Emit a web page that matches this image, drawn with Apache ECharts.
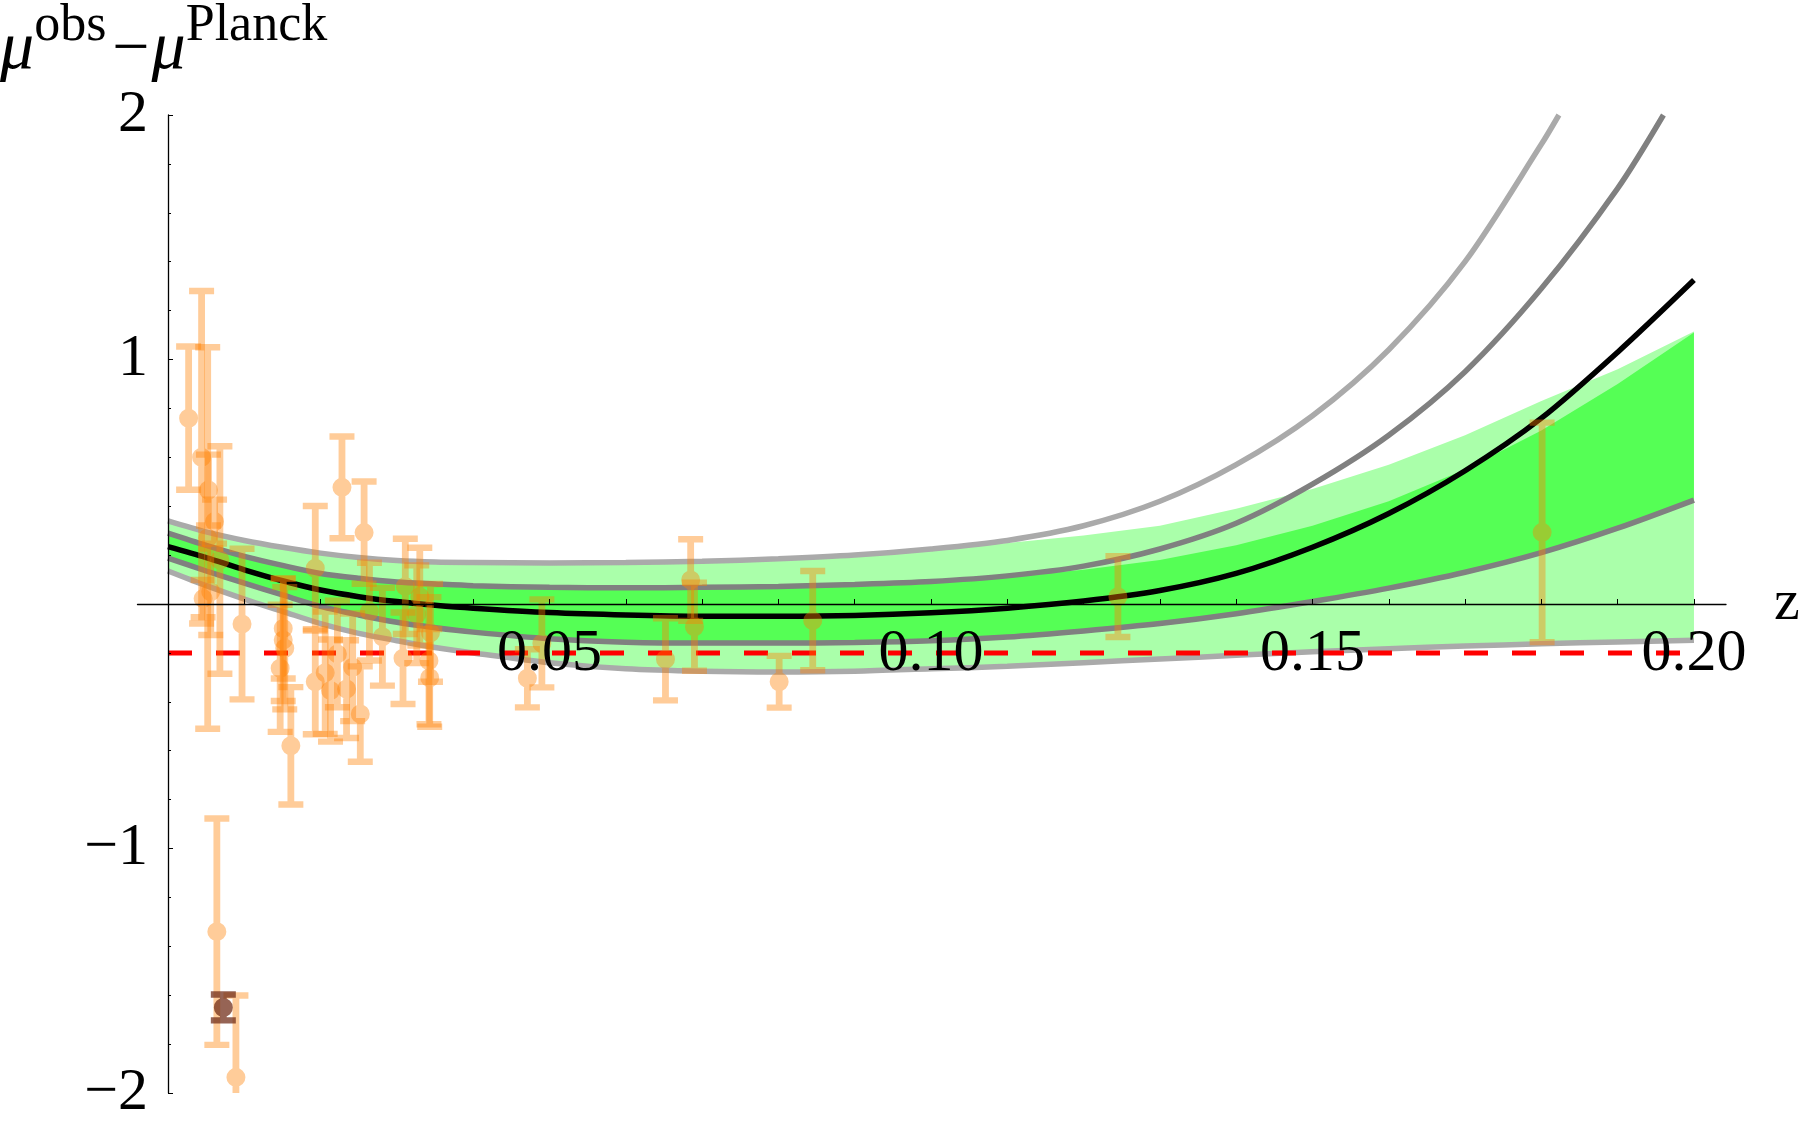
<!DOCTYPE html>
<html>
<head>
<meta charset="utf-8">
<script src="https://cdn.jsdelivr.net/npm/echarts@6/dist/echarts.min.js"></script>
<style>
  html, body { margin: 0; padding: 0; background: #fff; overflow: hidden; }
  #chart { width: 1800px; height: 1131px; }
</style>
</head>
<body>
<div id="chart"></div>
<script>
// redshift samples shared by the model curves and bands
const zGrid = [0, 0.005, 0.01, 0.015, 0.02, 0.025, 0.03, 0.035, 0.04, 0.05, 0.06, 0.07, 0.08,
  0.09, 0.10, 0.11, 0.12, 0.13, 0.14, 0.15, 0.16, 0.17, 0.18, 0.19, 0.20];

// best fit (black)
const fitMid = [0.235, 0.19, 0.14, 0.095, 0.057, 0.03, 0.01, -0.005, -0.017, -0.035, -0.045, -0.05, -0.05,
  -0.047, -0.036, -0.017, 0.012, 0.055, 0.125, 0.232, 0.37, 0.545, 0.76, 1.03, 1.325];

// upper curves leave the frame, so they have their own z samples
const zLightHi = [0, 0.005, 0.01, 0.015, 0.02, 0.025, 0.03, 0.035, 0.04, 0.05, 0.06, 0.07, 0.08,
  0.09, 0.10, 0.11, 0.12, 0.13, 0.14, 0.15, 0.16, 0.17, 0.18, 0.1823];
const lightHi = [0.34, 0.295, 0.26, 0.232, 0.208, 0.19, 0.178, 0.172, 0.17, 0.168, 0.17, 0.175, 0.185,
  0.2, 0.225, 0.26, 0.32, 0.42, 0.57, 0.77, 1.04, 1.40, 1.88, 2.0];
const zDarkHi = [0, 0.005, 0.01, 0.015, 0.02, 0.025, 0.03, 0.035, 0.04, 0.05, 0.06, 0.07, 0.08,
  0.09, 0.10, 0.11, 0.12, 0.13, 0.14, 0.15, 0.16, 0.17, 0.18, 0.19, 0.196];
const darkHi = [0.29, 0.24, 0.195, 0.158, 0.125, 0.105, 0.09, 0.082, 0.075, 0.068, 0.066, 0.068, 0.072,
  0.08, 0.092, 0.115, 0.155, 0.225, 0.33, 0.49, 0.69, 0.95, 1.29, 1.70, 2.0];

const darkLo = [0.188, 0.135, 0.085, 0.037, -0.01, -0.045, -0.075, -0.097, -0.115, -0.142, -0.156, -0.16, -0.16,
  -0.157, -0.15, -0.135, -0.11, -0.08, -0.04, 0.01, 0.065, 0.13, 0.21, 0.31, 0.425];
const lightLo = [0.135, 0.075, 0.02, -0.03, -0.08, -0.12, -0.15, -0.178, -0.2, -0.24, -0.265, -0.275, -0.278,
  -0.275, -0.265, -0.255, -0.24, -0.225, -0.21, -0.195, -0.183, -0.172, -0.163, -0.155, -0.148];

// top edges of the green bands
const lightBandTop = [0.34, 0.295, 0.26, 0.232, 0.208, 0.19, 0.178, 0.172, 0.17, 0.168, 0.17, 0.175, 0.185,
  0.2, 0.225, 0.25, 0.28, 0.32, 0.39, 0.47, 0.57, 0.69, 0.83, 0.96, 1.115];
const brightBandTop = [0.29, 0.24, 0.195, 0.158, 0.125, 0.105, 0.09, 0.082, 0.075, 0.068, 0.066, 0.068, 0.072,
  0.08, 0.092, 0.11, 0.14, 0.18, 0.24, 0.32, 0.42, 0.55, 0.71, 0.90, 1.11];

// Planck reference level
const planckZ = [0, 0.2];
const planckMu = [-0.2, -0.2];

// supernovae
const snZ = [0.0027, 0.0044, 0.0052, 0.0053, 0.0061, 0.0068, 0.0046, 0.0056, 0.0097, 0.0064, 0.0089,
  0.0161, 0.0151, 0.0151, 0.0153, 0.0147, 0.0228, 0.0257, 0.0193, 0.0193, 0.0222, 0.0242, 0.0206,
  0.0213, 0.0234, 0.0252, 0.0264, 0.0281, 0.0311, 0.0308, 0.0326, 0.0344, 0.0342, 0.0343, 0.0330,
  0.049, 0.0471, 0.0652, 0.0685, 0.069, 0.0801, 0.0845, 0.1245, 0.1801];
const snMu = [0.76, 0.60, 0.27, 0.466, 0.337, 0.18, 0.022, 0.05, -0.082, -1.34, -1.936,
  -0.58, -0.10, -0.147, -0.181, -0.263, 0.477, 0.292, 0.146, -0.318, -0.204, -0.259, -0.281,
  -0.354, -0.348, -0.45, -0.031, -0.134, 0.072, -0.222, -0.042, -0.118, -0.232, -0.302, 0.03,
  -0.161, -0.304, -0.226, 0.098, -0.093, -0.318, -0.068, 0.03, 0.293];
const snErr = [0.293, 0.68, 0.78, 0.145, 0.09, 0.465, 0.076, 0.177, 0.308, 0.463, 0.335,
  0.24, 0.205, 0.25, 0.25, 0.26, 0.208, 0.209, 0.255, 0.215, 0.218, 0.22, 0.25,
  0.209, 0.2, 0.195, 0.2, 0.2, 0.195, 0.187, 0.2, 0.2, 0.26, 0.2, 0.2,
  0.18, 0.119, 0.168, 0.167, 0.18, 0.106, 0.203, 0.165, 0.449];

// the one dark point
const oddZ = [0.00725];
const oddMu = [-1.65];
const oddErr = [0.053];

// ticks
const xTickValues = [0.01, 0.02, 0.03, 0.04, 0.05, 0.06, 0.07, 0.08, 0.09, 0.10,
  0.11, 0.12, 0.13, 0.14, 0.15, 0.16, 0.17, 0.18, 0.19, 0.20];
const xLabelValues = [0.05, 0.10, 0.15, 0.20];

const serif = "'Liberation Serif', 'Times New Roman', serif";

function pairs(xs, ys) {
  return xs.map(function (x, i) { return [x, ys[i]]; });
}

function curve(xs, ys, color, width, z) {
  return {
    type: 'line', data: pairs(xs, ys), smooth: 0.3, symbol: 'none', silent: true, z: z,
    lineStyle: { color: color, width: width }
  };
}

function band(lower, upper, color) {
  return {
    type: 'custom', silent: true, z: 1, clip: true,
    data: [[0, 0]],
    renderItem: function (params, api) {
      let pts = [];
      for (let i = 0; i < zGrid.length; i++) pts.push(api.coord([zGrid[i], upper[i]]));
      for (let i = zGrid.length - 1; i >= 0; i--) pts.push(api.coord([zGrid[i], lower[i]]));
      return { type: 'polygon', shape: { points: pts }, style: { fill: color } };
    }
  };
}

function box(x1, y1, x2, y2) {
  return 'M' + x1 + ' ' + y1 + 'H' + x2 + 'V' + y2 + 'H' + x1 + 'Z';
}

function errorBars(zs, mus, errs, color, z) {
  return {
    type: 'custom', silent: true, z: z, clip: true,
    data: zs.map(function (v, i) { return [v, mus[i], errs[i]]; }),
    encode: { x: 0, y: 1 },
    renderItem: function (params, api) {
      let c = api.coord([api.value(0), api.value(1)]);
      let t = api.coord([api.value(0), api.value(1) + api.value(2)]);
      let b = api.coord([api.value(0), api.value(1) - api.value(2)]);
      let x = c[0], r = 9.5;
      // one path so the overlapping parts of a point are not painted twice
      let d = box(x - 3.4, t[1], x + 3.4, b[1])
        + box(x - 12.5, t[1] - 3.2, x + 12.5, t[1] + 3.2)
        + box(x - 12.5, b[1] - 3.2, x + 12.5, b[1] + 3.2)
        + 'M' + (x + r) + ' ' + c[1] + 'A' + r + ' ' + r + ' 0 1 1 ' + (x - r) + ' ' + c[1]
        + 'A' + r + ' ' + r + ' 0 1 1 ' + (x + r) + ' ' + c[1] + 'Z';
      return { type: 'path', shape: { pathData: d }, style: { fill: color } };
    }
  };
}

let myChart = echarts.init(document.getElementById('chart'));
let option = {
  animation: false,
  backgroundColor: '#fff',
  title: {
    left: 0, top: 0, padding: 0,
    text: '{mu|μ}{sup|obs}{op|−}{mu|μ}{sup|Planck}',
    textStyle: {
      fontFamily: serif, fontWeight: 'normal', color: '#000',
      rich: {
        mu: { fontFamily: serif, fontSize: 68, fontStyle: 'italic', lineHeight: 84, verticalAlign: 'bottom', color: '#000' },
        op: { fontFamily: serif, fontSize: 66, lineHeight: 84, verticalAlign: 'bottom', color: '#000', padding: [0, 2, 0, 6] },
        sup: { fontFamily: serif, fontSize: 52, lineHeight: 50, verticalAlign: 'top', color: '#000' }
      }
    }
  },
  grid: { left: 137.5, right: 74, top: 115, bottom: 38, outerBoundsMode: 'none', containLabel: false },
  xAxis: {
    type: 'value', min: -0.004, max: 0.2042, z: 10,
    name: 'z', nameLocation: 'end', nameGap: 48,
    nameTextStyle: { fontFamily: serif, fontSize: 58, color: '#000', verticalAlign: 'middle' },
    axisLine: { show: true, onZero: true, lineStyle: { color: '#000', width: 1.3 } },
    axisTick: { show: true, inside: true, length: 5, customValues: xTickValues, lineStyle: { color: '#000', width: 1 } },
    axisLabel: {
      // labels stay at the frame edge, so pull them up under the zero line
      show: true, customValues: xLabelValues, margin: -469,
      fontFamily: serif, fontSize: 60, lineHeight: 60, color: '#000',
      formatter: function (v) { return v.toFixed(2); }
    },
    splitLine: { show: false }
  },
  yAxis: {
    type: 'value', min: -2, max: 2, interval: 1, z: 10,
    axisLine: { show: true, onZero: true, lineStyle: { color: '#000', width: 1.3 } },
    axisTick: { show: true, inside: true, length: 5, lineStyle: { color: '#000', width: 1 } },
    minorTick: { show: true, splitNumber: 5, length: 3, lineStyle: { color: '#000', width: 1 } },
    axisLabel: {
      show: true, margin: -10.5, fontFamily: serif, fontSize: 60, lineHeight: 60, color: '#000',
      showMinLabel: true, showMaxLabel: true,
      formatter: function (v) {
        if (v === 0) return '';
        return v < 0 ? '−' + Math.abs(v) : String(v);
      }
    },
    splitLine: { show: false }
  },
  series: [
    band(lightLo, lightBandTop, '#aaffaa'),
    band(darkLo, brightBandTop, '#55ff55'),
    curve(zGrid, lightLo, '#aaaaaa', 5.5, 3),
    curve(zGrid, darkLo, '#808080', 5.5, 3),
    curve(zDarkHi, darkHi, '#808080', 5.5, 3),
    curve(zLightHi, lightHi, '#aaaaaa', 5.5, 3),
    curve(zGrid, fitMid, '#000000', 5.5, 4),
    {
      type: 'line', data: pairs(planckZ, planckMu), symbol: 'none', silent: true, z: 5,
      lineStyle: { color: '#ff0000', width: 5, type: [24, 24] }
    },
    errorBars(snZ, snMu, snErr, 'rgba(255,128,0,0.4)', 6),
    errorBars(oddZ, oddMu, oddErr, 'rgba(110,40,20,0.72)', 7)
  ]
};
option && myChart.setOption(option);
</script>
</body>
</html>
